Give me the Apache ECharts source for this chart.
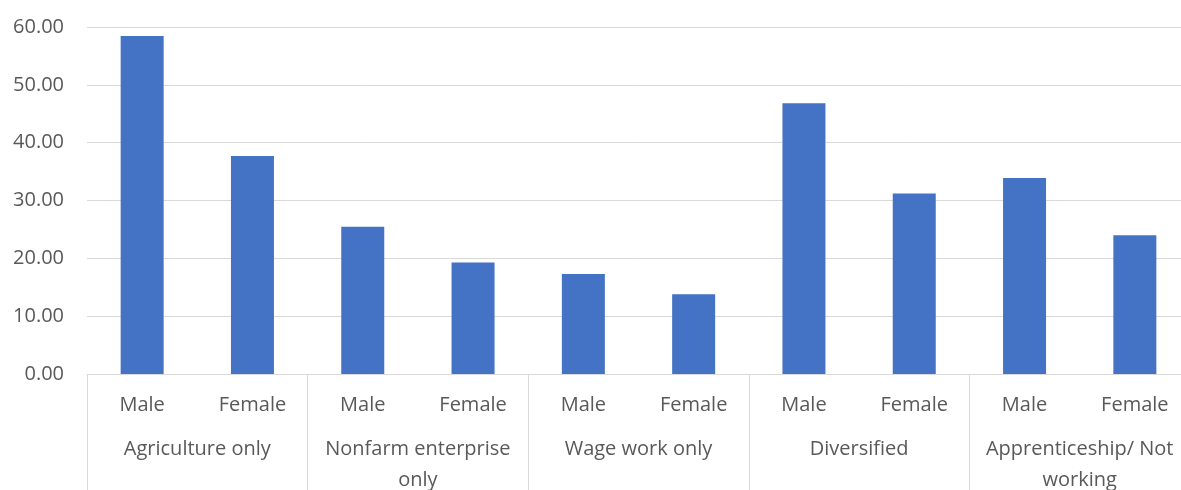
<!DOCTYPE html>
<html>
<head>
<meta charset="utf-8">
<script src="https://cdn.jsdelivr.net/npm/echarts@6/dist/echarts.min.js"></script>
<style>
html,body{margin:0;padding:0;background:#fff;}
#chart{width:1181px;height:490px;}
</style>
</head>
<body>
<div id="chart"></div>
<script>
const groups = ['Agriculture only', 'Nonfarm enterprise\nonly', 'Wage work only', 'Diversified', 'Apprenticeship/ Not\nworking'];
const subCategories = ['Male', 'Female', 'Male', 'Female', 'Male', 'Female', 'Male', 'Female', 'Male', 'Female'];
const values = [58.45, 37.7, 25.45, 19.3, 17.3, 13.8, 46.8, 31.2, 33.9, 24.0];
const yTicks = [0, 10, 20, 30, 40, 50, 60];

const chart = echarts.init(document.getElementById('chart'));
const textColor = '#595959';
const font = '"Open Sans", "Noto Sans", sans-serif';
chart.setOption({
  animation: false,
  grid: { left: 87, right: -9, top: 27, bottom: 116, containLabel: false, outerBoundsMode: 'none' },
  xAxis: [
    {
      type: 'category',
      data: subCategories,
      position: 'bottom',
      axisLine: { show: true, lineStyle: { color: '#d9d9d9', width: 1 } },
      axisTick: { show: false },
      axisLabel: { color: textColor, fontFamily: font, fontSize: 20, margin: 21, interval: 0 }
    },
    {
      type: 'category',
      data: groups,
      position: 'bottom',
      axisLine: { show: false },
      axisTick: { show: true, length: 120, lineStyle: { color: '#d9d9d9', width: 1 } },
      axisLabel: { color: textColor, fontFamily: font, fontSize: 20, margin: 60, lineHeight: 31, interval: 0 }
    }
  ],
  yAxis: {
    type: 'value',
    min: yTicks[0],
    max: yTicks[yTicks.length - 1],
    interval: 10,
    axisLine: { show: false },
    axisTick: { show: false },
    splitLine: { lineStyle: { color: '#d9d9d9', width: 1 } },
    axisLabel: { color: textColor, fontFamily: font, fontSize: 20, margin: 23, formatter: v => v.toFixed(2) }
  },
  series: [{
    type: 'bar',
    xAxisIndex: 0,
    data: values,
    barWidth: 43,
    itemStyle: { color: '#4472C4' }
  }]
});
</script>
</body>
</html>
